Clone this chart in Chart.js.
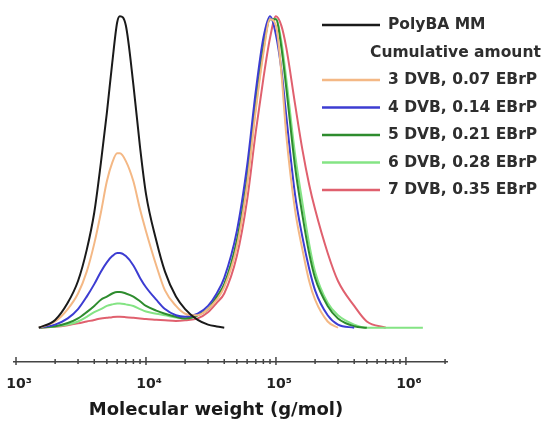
<!DOCTYPE html>
<html>
<head>
<meta charset="utf-8">
<script src="https://cdn.jsdelivr.net/npm/chart.js@4.4.0/dist/chart.umd.min.js"></script>
<style>
  html, body { margin: 0; padding: 0; background: #fff; }
</style>
</head>
<body>
<canvas id="gpcChart" width="548" height="427"></canvas>
<script>
// molecular weight (g/mol) sample points
var mw = [1500, 2000, 2500, 3000, 3500, 4000, 4500, 5000, 5500, 6000, 6300, 7000, 8000, 9000, 10000,
  12000, 14000, 17000, 20000, 25000, 30000, 35000, 40000, 50000, 60000, 70000, 80000, 90000, 100000,
  110000, 120000, 140000, 160000, 180000, 200000, 250000, 300000, 400000, 500000, 700000, 1000000, 1350000];

// normalised RI signal
var polyBA = [0, 0.025, 0.08, 0.15, 0.25, 0.37, 0.53, 0.69, 0.85, 0.98, 1.0, 0.97, 0.78, 0.58, 0.43,
  0.28, 0.18, 0.10, 0.06, 0.025, 0.01, 0.004, 0, null, null, null, null, null, null,
  null, null, null, null, null, null, null, null, null, null, null, null, null];
var dvb3 = [0, 0.02, 0.06, 0.11, 0.18, 0.27, 0.37, 0.47, 0.53, 0.56, 0.56, 0.535, 0.47, 0.38, 0.31,
  0.20, 0.12, 0.07, 0.045, 0.04, 0.06, 0.09, 0.13, 0.26, 0.46, 0.70, 0.88, 0.99, 0.97,
  0.82, 0.62, 0.38, 0.25, 0.15, 0.09, 0.02, 0, null, null, null, null, null];
var dvb4 = [0, 0.01, 0.03, 0.06, 0.10, 0.14, 0.18, 0.21, 0.23, 0.24, 0.24, 0.23, 0.20, 0.16, 0.13,
  0.09, 0.06, 0.04, 0.035, 0.045, 0.07, 0.11, 0.16, 0.31, 0.52, 0.76, 0.93, 1.0, 0.94,
  0.83, 0.68, 0.43, 0.29, 0.19, 0.12, 0.04, 0.01, 0, null, null, null, null];
var dvb5 = [0, 0.005, 0.015, 0.03, 0.05, 0.07, 0.09, 0.10, 0.11, 0.115, 0.115, 0.11, 0.10, 0.085, 0.07,
  0.055, 0.045, 0.035, 0.03, 0.04, 0.06, 0.10, 0.14, 0.28, 0.48, 0.72, 0.90, 0.99, 0.99,
  0.90, 0.77, 0.52, 0.36, 0.24, 0.16, 0.07, 0.03, 0.005, 0, null, null, null];
var dvb6 = [0, 0.004, 0.01, 0.02, 0.035, 0.05, 0.06, 0.07, 0.075, 0.078, 0.078, 0.075, 0.07, 0.06, 0.052,
  0.045, 0.04, 0.033, 0.03, 0.04, 0.06, 0.095, 0.135, 0.27, 0.47, 0.71, 0.89, 0.99, 0.99,
  0.92, 0.80, 0.56, 0.40, 0.27, 0.18, 0.08, 0.04, 0.01, 0, 0, 0, 0];
var dvb7 = [0, 0.003, 0.008, 0.014, 0.02, 0.025, 0.03, 0.032, 0.034, 0.035, 0.035, 0.034, 0.032, 0.03, 0.028,
  0.026, 0.024, 0.022, 0.024, 0.03, 0.05, 0.08, 0.11, 0.23, 0.41, 0.63, 0.80, 0.93, 1.0,
  0.97, 0.90, 0.72, 0.57, 0.46, 0.38, 0.24, 0.15, 0.07, 0.02, 0, null, null];

var seriesNames = ['PolyBA MM', '3 DVB, 0.07 EBrP', '4 DVB, 0.14 EBrP', '5 DVB, 0.21 EBrP', '6 DVB, 0.28 EBrP', '7 DVB, 0.35 EBrP'];
var seriesData = [polyBA, dvb3, dvb4, dvb5, dvb6, dvb7];
var seriesColors = ['#1a1a1a', '#f4b885', '#3c3cd2', '#2e8c2e', '#84e484', '#e0606e'];
var majorTicks = [1000, 10000, 100000, 1000000];
var tickLabels = ['10\u00b3', '10\u2074', '10\u2075', '10\u2076'];
var legendHeader = 'Cumulative amount';
var xTitle = 'Molecular weight (g/mol)';

function toPoints(ys) {
  var pts = [];
  for (var i = 0; i < mw.length; i++) pts.push({ x: mw[i], y: ys[i] });
  return pts;
}

var datasets = seriesNames.map(function (name, i) {
  return {
    label: name,
    data: toPoints(seriesData[i]),
    borderColor: seriesColors[i],
    borderWidth: 2,
    pointRadius: 0,
    fill: false,
    spanGaps: false,
    cubicInterpolationMode: 'monotone'
  };
});

// minor + major tick marks crossing the x axis line, plus the axis title
var axisTicks = {
  id: 'axisTicks',
  afterDraw: function (chart) {
    var sx = chart.scales.x, c = chart.ctx, y = sx.top;
    c.save();
    c.strokeStyle = '#444';
    c.lineWidth = 1.5;
    for (var d = 3; d <= 6; d++) {
      for (var m = 1; m <= 9; m++) {
        var v = m * Math.pow(10, d);
        if (v < sx.min || v > sx.max) continue;
        var px = sx.getPixelForValue(v);
        c.beginPath();
        if (m === 1) { c.moveTo(px, y - 5); c.lineTo(px, y + 3); }
        else { c.moveTo(px, y - 3); c.lineTo(px, y + 2); }
        c.stroke();
      }
    }
    c.font = 'bold 18px "DejaVu Sans"';
    c.fillStyle = '#1a1a1a';
    c.textAlign = 'center';
    c.textBaseline = 'middle';
    c.fillText(xTitle, 216, 410);
    c.restore();
  }
};

// legend laid over the plot, top right
var sideLegend = {
  id: 'sideLegend',
  afterDraw: function (chart) {
    var c = chart.ctx;
    c.save();
    c.font = 'bold 15.5px "DejaVu Sans"';
    c.fillStyle = '#2e2e2e';
    c.textBaseline = 'middle';
    var rowY = 25, step = 27.5;
    chart.data.datasets.forEach(function (ds, i) {
      if (i === 1) {
        c.fillText(legendHeader, 370, rowY);
        rowY += step;
      }
      c.strokeStyle = ds.borderColor;
      c.lineWidth = 2.5;
      c.beginPath();
      c.moveTo(322, rowY);
      c.lineTo(380, rowY);
      c.stroke();
      c.fillText(ds.label, 388, rowY);
      rowY += step;
    });
    c.restore();
  }
};

new Chart(document.getElementById('gpcChart').getContext('2d'), {
  type: 'line',
  data: { datasets: datasets },
  options: {
    responsive: false,
    animation: false,
    layout: { padding: { left: 14, right: 101, top: 10, bottom: 3 } },
    plugins: { legend: { display: false }, tooltip: { enabled: false } },
    scales: {
      x: {
        type: 'logarithmic',
        min: 965,
        max: 2070000,
        grid: { display: false, drawTicks: false },
        border: { display: true, color: '#444', width: 1.5 },
        afterBuildTicks: function (axis) {
          axis.ticks = majorTicks.map(function (v) { return { value: v }; });
        },
        afterFit: function (axis) {
          axis.height = 62;
          axis.paddingLeft = 0;
          axis.paddingRight = 0;
        },
        ticks: {
          autoSkip: false,
          maxRotation: 0,
          padding: 14,
          labelOffset: 3,
          color: '#222',
          font: { family: 'DejaVu Sans', weight: 'bold', size: 14 },
          callback: function (value) {
            var i = majorTicks.indexOf(value);
            return i >= 0 ? tickLabels[i] : '';
          }
        },
        title: { display: false }
      },
      y: {
        display: false,
        min: -0.11,
        max: 1.02
      }
    }
  },
  plugins: [axisTicks, sideLegend]
});
</script>
</body>
</html>
